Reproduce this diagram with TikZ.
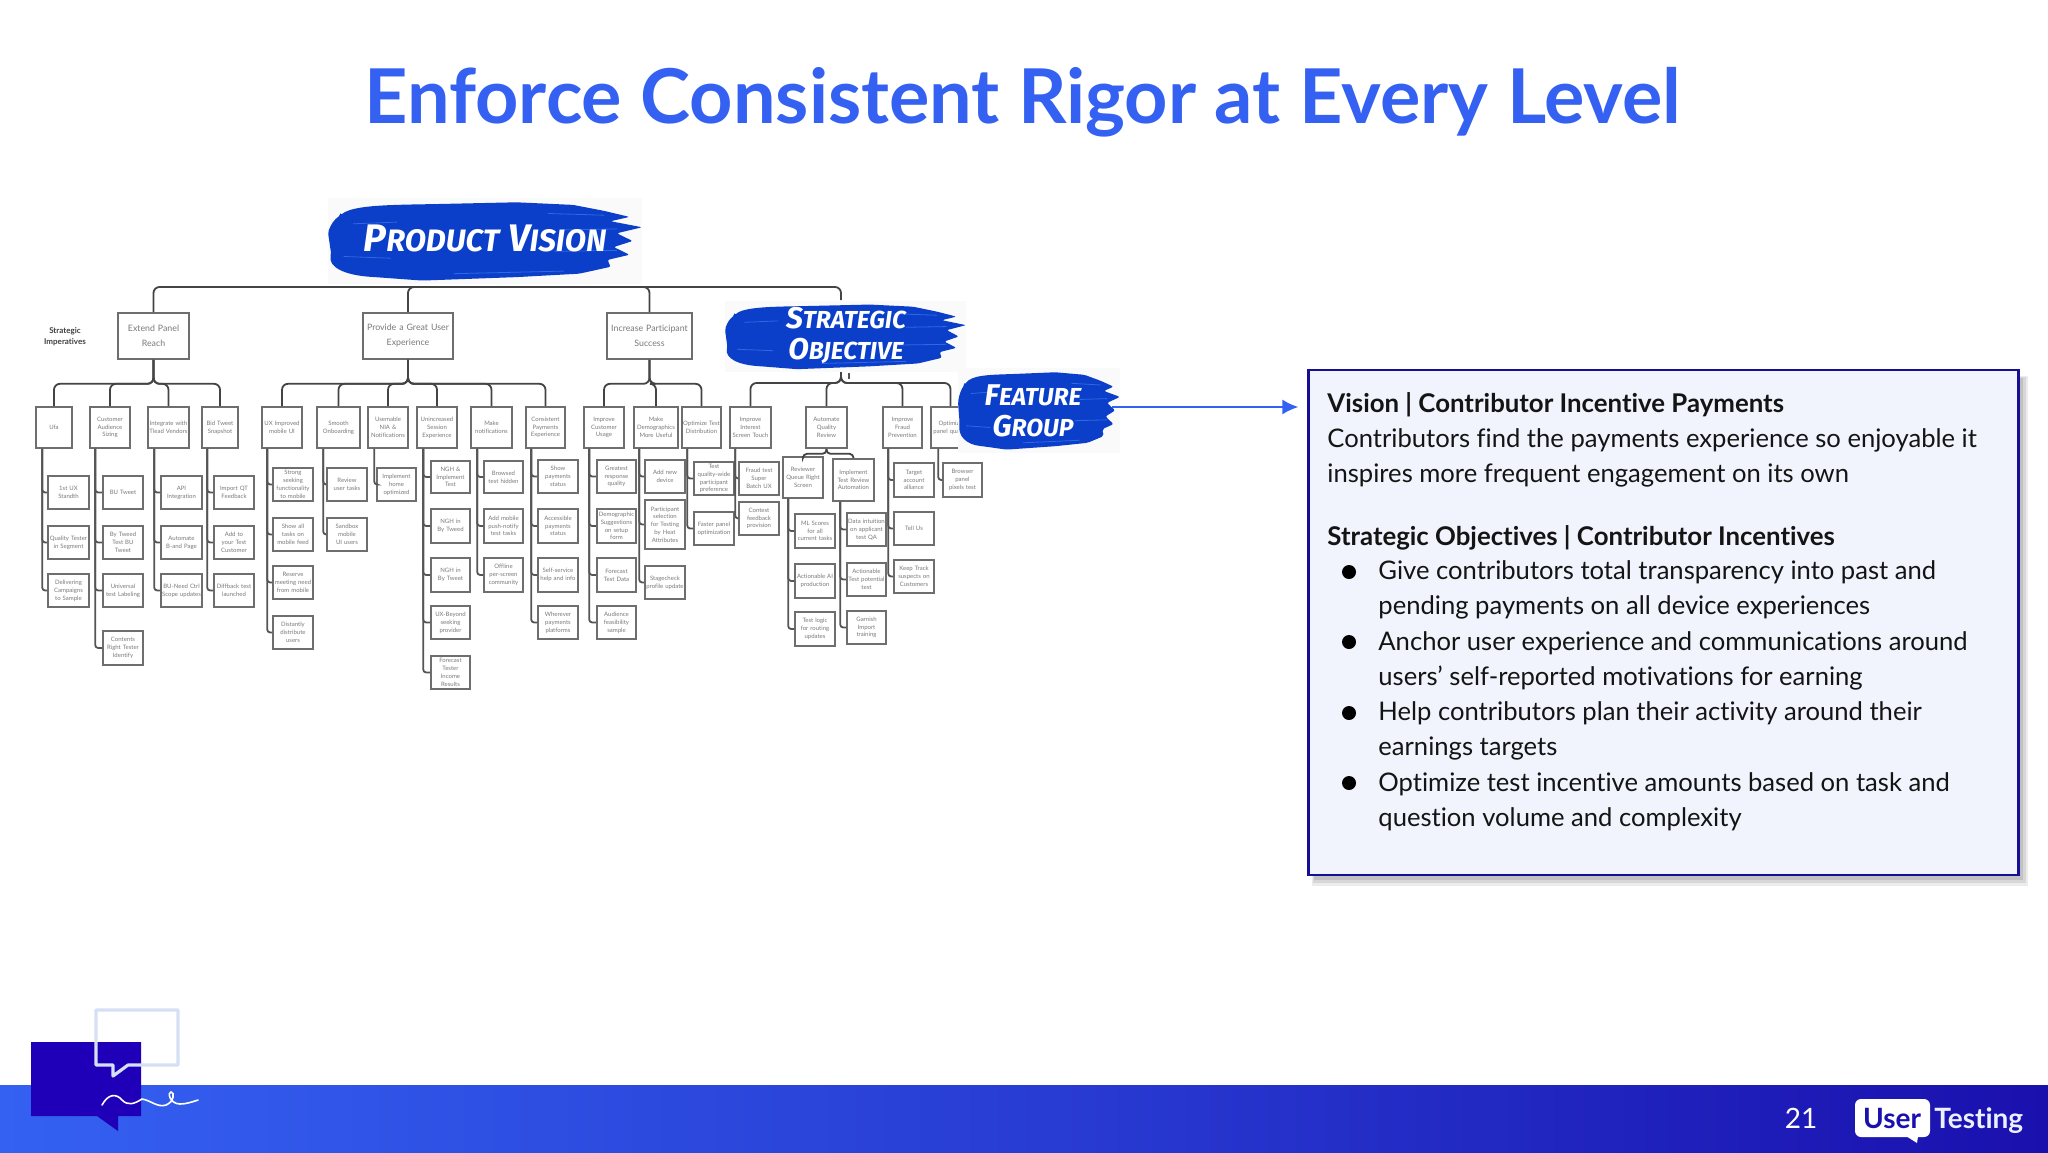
\documentclass[tikz,border=0pt]{standalone}
\usepackage{fontspec}
\setmainfont{Lato}[Ligatures=NoCommon]
\newfontfamily\handfont{Fira Sans}
\usetikzlibrary{arrows.meta}
\hyphenpenalty=10000
\exhyphenpenalty=10000
\definecolor{brand}{HTML}{3461F2}
\definecolor{navy}{HTML}{1A10AE}
\definecolor{ink}{HTML}{1F00B8}
\definecolor{brushc}{HTML}{0B3FC9}
\definecolor{brushl}{HTML}{2E68E6}
\definecolor{paneb}{HTML}{F1F4FD}
\definecolor{paleb}{HTML}{D5E0F5}
\definecolor{chart}{HTML}{555555}
\definecolor{charttxt}{HTML}{7A7A7A}
\tikzset{
  cbox/.style={draw=chart!85,line width=.8pt,fill=white,inner sep=0pt,align=center,text=charttxt,font=\fontsize{3}{3.9}\selectfont},
  hbox/.style={cbox,font=\fontsize{4.4}{7.5}\selectfont},
  bus/.style={draw=chart!80!black,line width=.9pt,rounded corners=3pt},
  spine/.style={draw=chart,line width=.9pt,rounded corners=1.5pt},
  infoline/.style={anchor=base west,inner sep=0pt,font=\fontsize{12.8}{15}\selectfont,text=black!92},
  infohead/.style={infoline,font=\fontsize{12.9}{15}\selectfont\bfseries},
  blobtext/.style={align=center,text=white,inner sep=0pt},
  bulletdot/.style={circle,fill=black,minimum size=7pt,inner sep=0pt}
}
% box from pixel corners
\newcommand{\bx}[7][cbox]{%
  \pgfmathsetmacro{\bw}{(#5-#3)*0.5}\pgfmathsetmacro{\bh}{(#6-#4)*0.5}%
  \pgfmathsetmacro{\bcx}{(#3+#5)/2}\pgfmathsetmacro{\bcy}{(#4+#6)/2}%
  \node[#1,minimum width=\bw pt,minimum height=\bh pt,text width=\bw pt-1pt] (#2) at (\bcx,\bcy) {#7};}
% spine from parent to child
\newcommand{\kid}[3]{\draw[spine] ([xshift=#2*0.5pt]#1.south west) |- (#3.west);}
% brush blob
\newcommand{\brush}[4]{%
  \pgfmathsetmacro{\bsx}{(#3-#1)/100*0.5}\pgfmathsetmacro{\bsy}{(#4-#2)/100*0.5}%
  \begin{scope}[shift={(#1,#2)},x=\bsx pt,y=-\bsy pt]
    \fill[black!2] (0,0) rectangle (100,100);
    \fill[brushc,rounded corners=1pt] (4,20) .. controls (8,8) and (20,8) .. (35,7) -- (60,5) -- (78,8) -- (88,15) -- (96,22) -- (90,27) -- (100,34) -- (92,41) -- (97,50) -- (91,57) -- (96,66) -- (89,72) -- (90,80) -- (80,88) -- (60,92) -- (30,96) -- (15,92) .. controls (5,90) and (0,80) .. (1,65) -- (0,40) .. controls (1,30) and (2,25) .. (4,20) -- cycle;
    \draw[brushl,line width=.4pt] (8,30) -- (22,28) (70,18) -- (88,20) (75,37) -- (92,36) (5,68) -- (20,70) (72,62) -- (92,61) (40,88) -- (75,85);
  \end{scope}}
\begin{document}
\begin{tikzpicture}[x=0.5pt,y=-0.5pt]
\useasboundingbox (0,0) rectangle (2048,1152);
\fill[white] (0,0) rectangle (2048,1152);
% title
\node[anchor=base,inner sep=0pt,text=brand,font=\fontsize{37.8}{40}\selectfont\bfseries] (title) at (1023,123) {Enforce Consistent Rigor at Every Level};

% ---- level 1
\coordinate (hub) at (484,287);
\coordinate (hubfour) at (841,300);
\coordinate (hubfourb) at (841,372);
\bx[hbox]{sA}{118}{313}{189}{359}{Extend Panel\\Reach}
\bx[hbox]{sB}{363}{313}{453}{359}{Provide a Great User\\Experience}
\bx[hbox]{sC}{607}{313}{692}{359}{Increase Participant\\Success}
\node[inner sep=0pt,align=center,text=black!75,font=\fontsize{4}{5.5}\selectfont\bfseries] (imper) at (65,337) {Strategic\\Imperatives};
\draw[bus] (hub) -| (sA.north);
\draw[bus] (hub) -| (sB.north);
\draw[bus] (hub) -| (sC.north);
\draw[bus] (hub) -| (hubfour);

% ---- level 2
\bx{a1}{36}{407}{72}{448}{Ufa}
\bx{a2}{90}{407}{130}{448}{Customer Audience Sizing}
\bx{a3}{148}{407}{189}{448}{Integrate with Tlead Vendors}
\bx{a4}{202}{407}{238}{448}{Bid Tweet Snapshot}
\bx{b1}{262}{407}{302}{448}{UX Improved mobile UI}
\bx{b2}{317}{407}{360}{448}{Smooth Onboarding}
\bx{b3}{368}{407}{408}{448}{Usemable NIA \& Notifications}
\bx{b4}{417}{407}{457}{448}{Unincreased Session Experience}
\bx{b5}{471}{407}{512}{448}{Make notifications}
\bx{b6}{526}{407}{565}{448}{Consistent Payments Experience}
\bx{c1}{584}{407}{624}{448}{Improve Customer Usage}
\bx{c2}{634}{407}{678}{448}{Make Demographics More Useful}
\bx{c3}{682}{407}{721}{448}{Optimize Test Distribution}
\bx{d1}{730}{407}{771}{448}{Improve Interest Screen Touch}
\bx{d2}{806}{407}{847}{448}{Automate Quality Review}
\bx{d3}{883}{407}{922}{448}{Improve Fraud Prevention}
\bx{d4}{931}{407}{970}{448}{Optimize panel quality}
\foreach \p/\c in {sA/a1,sA/a2,sA/a3,sA/a4,sB/b1,sB/b2,sB/b3,sB/b4,sB/b5,sB/b6,sC/c1,sC/c2,sC/c3}
  \draw[bus] (\p.south) -- ++(0,24) -| (\c.north);
\foreach \c in {d1,d2,d3,d4}
  \draw[bus] (hubfourb) -- ++(0,11) -| (\c.north);
\coordinate (tickb) at (849,373);
\draw[chart,line width=.6pt] (tickb) -- ++(0,6);

% ---- level 3: group A
\bx{a11}{48}{476}{89}{509}{1st UX Standth}
\bx{a12}{48}{526}{89}{559}{Quality Tester in Segment}
\bx{a13}{48}{574}{89}{607}{Delivering Campaigns to Sample}
\bx{a21}{103}{476}{143}{509}{BU Tweet}
\bx{a22}{103}{526}{143}{559}{By Tweed Test BU Tweet}
\bx{a23}{103}{574}{143}{607}{Universal test Labeling}
\bx{a24}{103}{631}{143}{665}{Contents Right Tester Identify}
\bx{a31}{161}{476}{202}{509}{API Integration}
\bx{a32}{161}{526}{202}{559}{Automate B-and Page}
\bx{a33}{161}{574}{202}{607}{BU-Need Ctrl Scope updates}
\bx{a41}{214}{476}{254}{509}{Import QT Feedback}
\bx{a42}{214}{526}{254}{559}{Add to your Test Customer}
\bx{a43}{214}{574}{254}{607}{Diffback test launched}
\bx{b11}{273}{468}{313}{501}{Strong seeking functionality to mobile}
\bx{b12}{273}{518}{313}{551}{Show all tasks on mobile feed}
\bx{b13}{273}{566}{313}{599}{Reserve meeting need from mobile}
\bx{b14}{273}{616}{313}{649}{Distantly distribute users}
\bx{b21}{327}{468}{367}{501}{Review user tasks}
\bx{b22}{327}{518}{367}{551}{Sandbox mobile UI users}
\bx{b31}{377}{468}{416}{501}{Implement home optimized}
\bx{b41}{431}{461}{470}{493}{NGH \& Implement Test}
\bx{b42}{431}{509}{470}{543}{NGH in By Tweed}
\bx{b43}{431}{558}{470}{592}{NGH in By Tweet}
\bx{b44}{431}{606}{470}{639}{UX-Beyond seeking provider}
\bx{b45}{431}{656}{470}{689}{Forecast Tester Income Results}
\bx{b51}{484}{461}{523}{493}{Browsed test hidden}
\bx{b52}{484}{509}{523}{543}{Add mobile push-notify test tasks}
\bx{b53}{484}{558}{523}{592}{Offline per-screen community}
\bx{b61}{538}{460}{578}{493}{Show payments status}
\bx{b62}{538}{509}{578}{543}{Accessible payments status}
\bx{b63}{538}{558}{578}{592}{Self-service help and info}
\bx{b64}{538}{606}{578}{639}{Wherever payments platforms}
\bx{c11}{597}{460}{636}{493}{Greatest response quality}
\bx{c12}{597}{509}{636}{543}{Demographic Suggestions on setup form}
\bx{c13}{597}{558}{636}{592}{Forecast Test Data}
\bx{c14}{597}{606}{636}{639}{Audience feasibility sample}
\bx{c21}{645}{460}{685}{493}{Add new device}
\bx{c22}{645}{500}{685}{549}{Participant selection for Testing by Heat Attributes}
\bx{c23}{645}{566}{685}{599}{Stagecheck profile update}
\bx{c31}{694}{462}{734}{495}{Test quality-wide participant preference}
\bx{c32}{694}{512}{734}{545}{Faster panel optimization}
\bx{d11}{739}{462}{779}{495}{Fraud test Super Batch UX}
\bx{d12}{739}{502}{779}{535}{Contest feedback provision}
\bx{e1}{783}{457}{823}{498}{Reviewer Queue Right Screen}
\bx{e2}{833}{459}{874}{501}{Implement Test Review Automation}
\bx{e11}{795}{514}{835}{548}{ML Scores for all current tasks}
\bx{e12}{795}{564}{835}{598}{Actionable AI production}
\bx{e13}{795}{612}{835}{646}{Test logic for routing updates}
\bx{e21}{847}{513}{886}{546}{Data intuition on applicant test QA}
\bx{e22}{847}{563}{886}{596}{Actionable Test potential test}
\bx{e23}{847}{611}{886}{644}{Garnish Import training}
\bx{d31}{894}{463}{934}{497}{Target account alliance}
\bx{d32}{894}{512}{934}{545}{Tell Us}
\bx{d33}{894}{560}{934}{593}{Keep Track suspects on Customers}
\bx{d41}{943}{463}{982}{497}{Browser panel pixels test}

\foreach \c in {a11,a12,a13} {\kid{a1}{7}{\c}}
\foreach \c in {a21,a22,a23,a24} {\kid{a2}{6}{\c}}
\foreach \c in {a31,a32,a33} {\kid{a3}{7}{\c}}
\foreach \c in {a41,a42,a43} {\kid{a4}{6}{\c}}
\foreach \c in {b11,b12,b13,b14} {\kid{b1}{6}{\c}}
\foreach \c in {b21,b22} {\kid{b2}{7}{\c}}
\kid{b3}{7}{b31}
\foreach \c in {b41,b42,b43,b44,b45} {\kid{b4}{7}{\c}}
\foreach \c in {b51,b52,b53} {\kid{b5}{7}{\c}}
\foreach \c in {b61,b62,b63,b64} {\kid{b6}{6}{\c}}
\foreach \c in {c11,c12,c13,c14} {\kid{c1}{6}{\c}}
\foreach \c in {c21,c22,c23} {\kid{c2}{6}{\c}}
\foreach \c in {c31,c32} {\kid{c3}{6}{\c}}
\foreach \c in {d11,d12} {\kid{d1}{6}{\c}}
\foreach \c in {e11,e12,e13} {\kid{e1}{6}{\c}}
\foreach \c in {e21,e22,e23} {\kid{e2}{8}{\c}}
\foreach \c in {d31,d32,d33} {\kid{d3}{6}{\c}}
\kid{d4}{8}{d41}
\draw[bus,rounded corners=2pt] (d2.south) -- ++(0,5) -| (e1.north);
\draw[bus,rounded corners=2pt] (d2.south) -- ++(0,5) -| (e2.north);

% ---- brushes
\brush{328}{198}{642}{284}
\node[blobtext,font=\handfont\fontsize{19.2}{20}\selectfont\bfseries\itshape] (pv) at (485,238) {P{\fontsize{15.5}{20}\selectfont RODUCT} V{\fontsize{15.5}{20}\selectfont ISION}};
\brush{725}{301}{966}{372}
\node[blobtext,font=\handfont\fontsize{15}{15.5}\selectfont\bfseries\itshape] (so) at (846,335) {S{\fontsize{12.3}{15.5}\selectfont TRATEGIC}\\O{\fontsize{12.3}{15.5}\selectfont BJECTIVE}};
\brush{958}{368}{1120}{453}
\node[blobtext,font=\handfont\fontsize{15}{15.5}\selectfont\bfseries\itshape] (fg) at (1033,411) {F{\fontsize{12.3}{15.5}\selectfont EATURE}\\G{\fontsize{12.3}{15.5}\selectfont ROUP}};

% ---- info panel
\fill[black!40,opacity=.18] (1312,376) rectangle (2028,886);
\fill[black!40,opacity=.25] (1313,377) rectangle (2026,883);
\fill[black!40,opacity=.35] (1314,378) rectangle (2023,880);
\node[draw=navy!85!black,line width=1.1pt,fill=paneb,minimum width=355pt,minimum height=252.5pt,inner sep=0pt] (pane) at (1663.5,622.5) {};
\coordinate (arrowstart) at (1112,407);
\draw[-{Latex[length=8pt,width=7.5pt]},brand,line width=1pt,shorten >=4.5pt] (arrowstart) -- (pane.west |- arrowstart);
\node[infohead] (t1) at (1327,412) {Vision | Contributor Incentive Payments};
\node[infoline] (t2) at (1327,447) {Contributors find the payments experience so enjoyable it};
\node[infoline] (t3) at (1327,482) {inspires more frequent engagement on its own};
\node[infohead] (t4) at (1327,545) {Strategic Objectives | Contributor Incentives};
\node[infoline] (t5) at (1378,579) {Give contributors total transparency into past and};
\node[infoline] (t6) at (1378,614) {pending payments on all device experiences};
\node[infoline] (t7) at (1378,650) {Anchor user experience and communications around};
\node[infoline] (t8) at (1378,685) {users’ self-reported motivations for earning};
\node[infoline] (t9) at (1378,720) {Help contributors plan their activity around their};
\node[infoline] (t10) at (1378,755) {earnings targets};
\node[infoline] (t11) at (1378,791) {Optimize test incentive amounts based on task and};
\node[infoline] (t12) at (1378,826) {question volume and complexity};
\node[bulletdot] (b1dot) at (1349,572) {};
\node[bulletdot] (b2dot) at (1349,642) {};
\node[bulletdot] (b3dot) at (1349,713) {};
\node[bulletdot] (b4dot) at (1349,783) {};

% ---- footer
\shade[left color=brand,right color=navy,middle color=brand!55!navy] (0,1085) rectangle (2048,1152);
\fill[ink] (31,1042) -- (141,1042) -- (141,1116) -- (118,1116) -- (118,1131) -- (97,1116) -- (31,1116) -- cycle;
\draw[paleb,line width=1.6pt,line join=round] (96,1010) -- (178,1010) -- (178,1065) -- (128,1065) -- (113,1076) -- (113,1065) -- (96,1065) -- cycle;
\draw[white,line width=.8pt,line cap=round] (102,1105) .. controls (108,1094) and (116,1093) .. (122,1100) .. controls (128,1106) and (134,1104) .. (142,1099) .. controls (150,1100) and (158,1108) .. (166,1105) .. controls (174,1102) and (175,1092) .. (171,1092) .. controls (167,1092) and (170,1104) .. (180,1104) .. controls (186,1104) and (192,1102) .. (198,1100);
\node[anchor=base,inner sep=0pt,text=white,font=\fontsize{14}{16}\selectfont] (page) at (1801,1128) {21};
\fill[white,rounded corners=3pt] (1855,1099) rectangle (1930,1137);
\fill[white] (1906,1136) -- (1918,1136) -- (1917,1143) -- cycle;
\node[anchor=base,inner sep=0pt,text=navy,font=\fontsize{14}{16}\selectfont\bfseries] (lgu) at (1892,1128) {User};
\node[anchor=base west,inner sep=0pt,text=white!90!brand,font=\fontsize{14}{16}\selectfont\bfseries] (lgt) at (1934,1128) {Testing};
\end{tikzpicture}
\end{document}
